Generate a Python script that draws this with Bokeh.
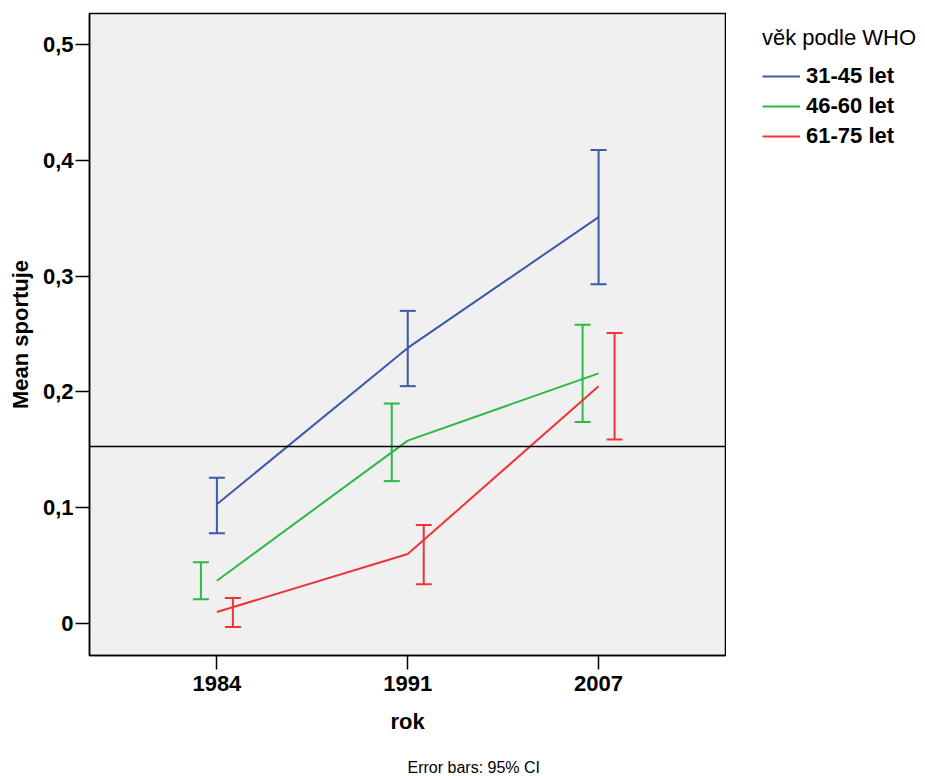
from bokeh.plotting import figure
from bokeh.models import (ColumnDataSource, Whisker, TeeHead, Span, Legend, LegendItem,
                          Label, FixedTicker, Range1d)
from bokeh.layouts import row, column
from bokeh.transform import dodge
from bokeh.embed import file_html
from bokeh.resources import INLINE

# ---- data ----
years = ["1984", "1991", "2007"]
groups = ["31-45 let", "46-60 let", "61-75 let"]

mean_31_45 = [0.103, 0.238, 0.351]
lower_31_45 = [0.078, 0.205, 0.293]
upper_31_45 = [0.126, 0.270, 0.409]

mean_46_60 = [0.037, 0.158, 0.216]
lower_46_60 = [0.021, 0.123, 0.174]
upper_46_60 = [0.053, 0.190, 0.258]

mean_61_75 = [0.010, 0.060, 0.205]
lower_61_75 = [-0.003, 0.034, 0.159]
upper_61_75 = [0.022, 0.085, 0.251]

overall_mean = 0.1528

y_ticks = [0, 0.1, 0.2, 0.3, 0.4, 0.5]
y_tick_labels = ["0", "0,1", "0,2", "0,3", "0,4", "0,5"]

colors = ["#3E58AC", "#2EB848", "#EF3338"]
offsets = [0.0, -0.0838, 0.0838]

FONT = "Liberation Sans"

# ---- main plot ----
p = figure(width=726, height=742, output_backend="svg", toolbar_location=None,
           x_range=Range1d(-0.6675, 2.665), y_range=Range1d(-0.0276, 0.5268),
           min_border_left=89, min_border_right=1, min_border_top=13,
           min_border_bottom=87)
p.background_fill_color = "#F0F0F0"
p.border_fill_color = "white"
p.outline_line_color = "black"
p.outline_line_width = 1.5
p.xgrid.visible = False
p.ygrid.visible = False

xs = list(range(len(years)))
series = [(mean_31_45, lower_31_45, upper_31_45),
          (mean_46_60, lower_46_60, upper_46_60),
          (mean_61_75, lower_61_75, upper_61_75)]

for (m, lo, up), c, off in zip(series, colors, offsets):
    src = ColumnDataSource(dict(x=xs, mean=m, lower=lo, upper=up))
    p.line("x", "mean", source=src, line_color=c, line_width=2)
    w = Whisker(base=dodge("x", off), upper="upper", lower="lower", source=src,
                dimension="height", line_color=c, line_width=2,
                upper_head=TeeHead(size=16, line_color=c, line_width=2),
                lower_head=TeeHead(size=16, line_color=c, line_width=2))
    p.add_layout(w)

p.add_layout(Span(location=overall_mean, dimension="width", line_color="black",
                  line_width=1.5))

p.xaxis.ticker = FixedTicker(ticks=xs)
p.xaxis.major_label_overrides = {i: y for i, y in zip(xs, years)}
p.yaxis.ticker = FixedTicker(ticks=y_ticks)
p.yaxis.major_label_overrides = {t: l for t, l in zip(y_ticks, y_tick_labels)}
for ax in (p.xaxis[0], p.yaxis[0]):
    ax.axis_line_color = "black"
    ax.axis_line_width = 1.5
    ax.major_tick_line_color = "black"
    ax.major_tick_line_width = 1.5
    ax.major_tick_out = 14
    ax.major_tick_in = 0
    ax.minor_tick_line_color = None
    ax.major_label_text_font = FONT
    ax.major_label_text_font_size = "22px"
    ax.major_label_text_font_style = "bold"
    ax.major_label_text_color = "black"
    ax.axis_label_text_font = FONT
    ax.axis_label_text_font_size = "22px"
    ax.axis_label_text_font_style = "bold"
    ax.axis_label_text_color = "black"
p.xaxis.axis_label = "rok"
p.yaxis.axis_label = "Mean sportuje"
p.xaxis.major_label_standoff = 6
p.yaxis.major_label_standoff = 2
p.xaxis.axis_label_standoff = 15
p.yaxis.axis_label_standoff = 7

# ---- legend panel (right) ----
lf = figure(width=199, height=742, output_backend="svg", toolbar_location=None,
            x_range=Range1d(0, 1), y_range=Range1d(0, 1),
            min_border_left=0, min_border_right=0, min_border_top=0, min_border_bottom=0)
lf.axis.visible = False
lf.grid.visible = False
lf.outline_line_color = None
lf.background_fill_color = "white"
# legend swatch renderers (kept outside the visible range of this panel)
leg_renderers = [lf.line(x=[-10, -9], y=[-10, -10], line_color=c, line_width=2)
                 for c in colors]
legend = Legend(items=[LegendItem(label=g, renderers=[r]) for g, r in zip(groups, leg_renderers)],
                location=(36, 504), padding=0, margin=0,
                background_fill_alpha=0, border_line_alpha=0,
                title="věk podle WHO", title_text_font=FONT, title_text_font_size="22px",
                title_text_font_style="normal", title_text_color="black",
                title_standoff=10,
                glyph_width=38, glyph_height=30, label_height=30, label_standoff=6,
                spacing=0, label_text_font=FONT, label_text_font_size="22px",
                label_text_font_style="bold", label_text_color="black")
lf.add_layout(legend)

# ---- footnote strip (bottom) ----
nf = figure(width=925, height=34, output_backend="svg", toolbar_location=None,
            x_range=Range1d(0, 925), y_range=Range1d(0, 34),
            min_border_left=0, min_border_right=0, min_border_top=0, min_border_bottom=0)
nf.axis.visible = False
nf.grid.visible = False
nf.outline_line_color = None
nf.background_fill_color = "white"
nf.add_layout(Label(x=407, y=9, text="Error bars: 95% CI", text_font=FONT,
                    text_font_size="16px", text_baseline="middle", text_color="black"))

layout = column(row(p, lf, spacing=0), nf, spacing=0)
open("out.html", "w").write(file_html(layout, INLINE))
